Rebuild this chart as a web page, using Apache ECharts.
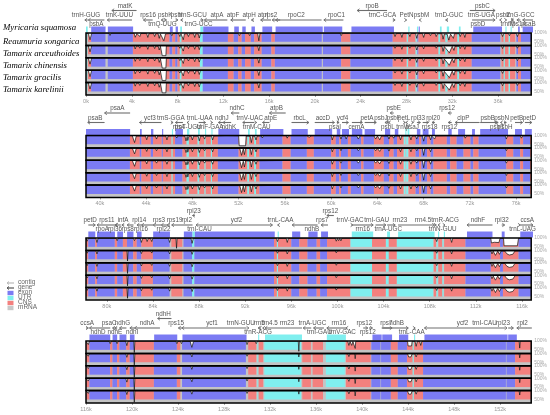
<!DOCTYPE html>
<html>
<head>
<meta charset="utf-8">
<title>mVISTA</title>
<style>
html, body { margin: 0; padding: 0; background: #fff; }
#main { width: 550px; height: 415px; }
</style>
</head>
<body>
<div id="main"></div>
<script src="https://cdn.jsdelivr.net/npm/echarts@6.0.0/dist/echarts.min.js"></script>
<script>
var speciesNames = ['Myricaria squamosa', 'Reaumuria songarica', 'Tamarix arceuthoides',
  'Tamarix chinensis', 'Tamarix gracilis', 'Tamarix karelinii'];
var legendNames = ['contig', 'gene', 'exon', 'UTR', 'CNS', 'mRNA'];

// window of each panel, kb
var panelRanges = [[0, 38.9], [38.8, 77.3], [78.2, 116.8], [116, 154.7]];
var p1Ticks = [0, 4, 8, 12, 16, 20, 24, 28, 32, 36];
var p2Ticks = [40, 44, 48, 52, 56, 60, 64, 68, 72, 76];
var p3Ticks = [80, 84, 88, 92, 96, 100, 104, 108, 112, 116];
var p4Ticks = [116, 120, 124, 128, 132, 136, 140, 144, 148, 152];

// regions: [type, start, end]  e = exon, u = UTR, c = CNS
var p1Regions = [['u',0,0.15],['c',0.15,0.45],['e',0.45,1.7],['e',1.9,4.1],['c',4.1,6.55],['c',6.6,7.3],
  ['e',7.3,7.55],['c',7.55,7.8],['e',7.8,8.0],['c',8.0,8.2],['u',8.2,8.35],['c',8.35,9.95],['u',9.95,10.2],
  ['e',10.2,12.4],['c',12.4,12.9],['e',12.9,13.3],['c',13.3,13.6],['e',13.6,13.9],['c',13.9,14.4],
  ['e',14.4,14.7],['c',14.7,15.35],['e',15.35,16.2],['c',16.2,16.5],['e',16.5,20.6],['e',20.7,22.3],
  ['c',22.3,23.1],['e',23.1,26.8],['c',26.8,28.0],['u',28.05,28.15],['c',28.15,28.8],['u',28.8,28.9],
  ['e',28.95,29.05],['c',29.05,30.8],['u',30.8,30.95],['c',30.95,31.4],['u',31.4,31.6],['c',31.6,32.45],
  ['u',32.45,32.6],['c',32.6,33.7],['e',33.7,36.2],['c',36.3,36.5],['u',36.5,36.6],['c',36.6,36.9],
  ['u',36.95,37.05],['c',37.05,37.5],['e',37.6,37.75],['c',37.75,38.0],['e',38.0,38.9]];
var p2Regions = [['e',38.8,42.6],['c',42.6,43.45],['e',43.45,43.6],['c',43.6,44.4],['e',44.4,44.6],
  ['c',44.6,45.35],['e',45.35,45.45],['c',45.45,46.2],['u',46.2,46.3],['c',46.3,46.5],['e',46.5,47.15],
  ['c',47.15,47.5],['u',47.5,47.7],['c',47.7,48.45],['u',48.45,48.6],['c',48.6,49.05],['u',49.05,49.15],
  ['c',49.15,49.6],['u',49.6,49.7],['c',49.7,50.2],['e',50.2,52.0],['c',52.0,52.75],['u',52.75,52.9],
  ['c',52.9,53.35],['u',53.35,53.5],['c',53.5,53.8],['e',53.8,55.8],['c',55.8,56.5],['e',56.5,57.9],
  ['c',57.9,58.5],['e',58.5,60.0],['c',60.0,60.4],['e',60.4,60.7],['c',60.7,60.85],['e',60.85,61.45],
  ['c',61.45,61.7],['e',61.7,62.6],['c',62.6,62.8],['e',62.8,63.7],['c',63.7,64.55],['e',64.55,65.0],
  ['c',65.0,65.4],['e',65.4,65.7],['c',65.7,66.25],['u',66.3,66.4],['u',66.5,66.65],['c',66.7,67.3],
  ['e',67.3,67.6],['c',67.6,67.8],['e',67.8,68.3],['c',68.3,68.6],['e',68.6,68.85],['c',68.85,70.0],
  ['e',70.0,70.3],['c',70.3,70.85],['e',70.85,71.45],['c',71.45,72.05],['e',72.05,72.3],['c',72.3,72.75],
  ['e',72.75,75.15],['c',75.15,75.75],['e',75.75,76.35],['c',76.35,76.6],['e',76.6,77.2],['c',77.2,77.3]];
var p3Regions = [['c',78.2,78.4],['e',78.4,79.0],['c',79.0,79.15],['e',79.15,80.7],['c',80.7,80.9],
  ['e',80.9,81.4],['c',81.4,81.75],['e',81.75,82.3],['c',82.3,82.6],['e',82.6,83.0],['c',83.0,84.0],
  ['e',84.0,85.45],['c',85.6,86.55],['e',86.65,87.4],['u',87.4,87.6],['e',87.6,94.5],['c',94.5,94.75],
  ['u',94.75,94.85],['c',94.85,96.0],['e',96.0,96.7],['c',96.7,97.4],['e',97.4,98.2],['c',98.2,98.5],
  ['e',98.5,99.1],['c',99.1,101.1],['u',101.15,103.0],['c',103.0,104.2],['u',104.2,104.45],
  ['c',104.45,105.15],['u',105.15,108.3],['c',108.35,108.55],['u',108.6,108.7],['c',108.75,109.1],
  ['u',109.1,109.2],['c',109.25,111.1],['e',111.1,113.3],['c',113.3,114.1],['e',114.1,114.35],
  ['c',114.35,115.7],['e',115.7,116.8]];
var p4Regions = [['c',116.0,116.3],['e',116.3,118.1],['c',118.1,118.3],['e',118.3,118.7],['c',118.7,118.9],
  ['e',118.9,119.5],['c',119.5,119.8],['e',119.8,120.2],['c',120.25,121.9],['e',121.9,123.9],
  ['c',123.9,124.2],['e',124.35,129.9],['c',130.1,130.8],['u',130.9,131.0],['c',131.0,131.4],
  ['u',131.5,134.7],['c',134.8,135.55],['c',135.7,136.6],['u',136.85,138.5],['c',138.6,140.75],
  ['e',140.8,141.6],['e',141.65,142.5],['c',142.5,143.1],['e',143.1,143.9],['c',143.9,144.4],
  ['u',144.4,144.5],['c',144.5,145.3],['e',145.3,152.5],['e',152.55,153.3],['c',153.3,154.7]];

// genes: [name, start, end, strand, row, label centre]
var p1Genes = [['trnH-GUG',-0.1,0.15,-1,1,0.0],['psbA',0.2,1.6,-1,0,0.9],['matK',2.25,4.4,-1,2,3.4],
  ['trnK-UUU',1.85,4.0,-1,1,2.9],['rps16',5.0,5.8,-1,1,5.4],['trnQ-UUG',6.55,6.75,-1,0,6.65],
  ['psbK',6.8,7.0,1,1,6.9],['psbI',7.8,8.0,1,1,7.9],['trnS-GCU',8.25,8.4,-1,1,9.3],
  ['trnG-UCC',9.95,10.2,1,0,9.8],['atpA',10.3,12.3,-1,1,11.4],['atpF',12.6,13.9,-1,1,12.8],
  ['atpH',14.4,14.6,-1,1,14.2],['atpI',15.2,16.1,-1,1,15.4],['rps2',16.2,16.9,-1,1,16.1],
  ['rpoC2',16.5,20.5,-1,1,18.3],['rpoC1',20.7,22.4,-1,1,21.8],['rpoB',23.6,26.2,-1,2,24.9],
  ['trnC-GCA',26.7,26.9,1,1,25.8],['PetN',27.8,27.9,1,1,27.9],['psbM',29.0,29.1,-1,1,29.2],
  ['trnD-GUC',31.3,31.5,-1,1,31.6],['psbD',33.6,35.6,1,0,34.1],['psbC',33.4,35.6,1,2,34.5],
  ['trnS-UGA',36.0,36.1,-1,1,34.4],['psbZ',36.5,36.6,1,1,36.3],['trnG-GCC',37.1,37.2,1,1,37.8],
  ['trnfM',37.0,37.1,-1,0,36.7],['rps14',37.5,37.8,-1,0,37.6],['psaB',38.0,38.9,-1,0,38.5]];
var p2Genes = [['psaB',38.95,40.4,-1,1,39.6],['psaA',40.4,42.6,-1,2,41.5],['ycf3',43.4,45.3,-1,1,44.3],
  ['trnS-GGA',46.15,46.3,1,1,46.1],['rps4',46.5,47.15,-1,0,46.8],['trnT-UGU',47.5,47.6,-1,0,47.6],
  ['trnL-UAA',48.5,49.1,1,1,48.6],['trnF-GAA',49.6,49.7,1,0,49.5],['ndhJ',50.2,50.6,-1,1,50.5],
  ['ndhK',50.6,51.3,-1,0,51.1],['ndhC',51.3,52.0,-1,2,51.8],['trnV-UAC',52.3,53.3,-1,1,52.9],
  ['trnM-CAU',53.4,53.5,1,0,53.5],['atpE',54.0,54.6,-1,1,54.7],['atpB',54.6,56.0,-1,2,55.2],
  ['rbcL',56.5,58.0,1,1,57.2],['accD',58.5,60.2,1,1,59.2],['psaI',60.4,60.6,1,0,60.25],
  ['ycf4',60.85,61.4,1,1,60.9],['cemA',61.7,62.6,1,0,62.1],['petA',62.8,63.8,1,1,63.0],
  ['psbJ',64.55,64.65,-1,1,64.2],['psbL',64.7,64.8,-1,0,64.8],['psbF',64.85,64.95,-1,1,65.3],
  ['psbE',65.0,65.3,-1,2,65.3],['petL',66.2,66.3,1,1,66.2],['trnW',66.35,66.45,-1,0,66.1],
  ['psaJ',66.9,67.0,1,0,66.9],['rpl33',67.3,67.6,1,1,67.4],['rps18',67.8,68.3,1,0,68.4],
  ['rpl20',68.6,68.85,-1,1,68.7],['rps12',70.0,70.3,-1,2,69.9],['rps12',70.0,70.3,-1,0,70.1],
  ['clpP',70.6,72.7,-1,1,71.3],['psbB',72.75,74.2,1,1,73.4],['psbT',74.2,74.3,1,0,74.2],
  ['psbN',74.5,74.6,-1,1,74.6],['psbH',74.8,75.0,1,0,74.9],['petB',75.75,76.4,1,1,75.9],
  ['petD',76.6,77.2,1,1,77.0]];
var p3Genes = [['petD',78.4,79.0,1,1,78.55],['rps11',80.7,81.2,-1,1,80.0],['infA',81.3,81.5,-1,1,81.4],
  ['rpl14',82.6,83.0,-1,1,82.8],['rpoA',79.15,80.7,-1,0,79.6],['rpl36',80.75,80.85,-1,0,80.7],
  ['rps8',81.75,82.3,-1,0,81.8],['rpl16',83.0,84.0,-1,0,82.95],['rps3',84.0,84.7,-1,1,84.5],
  ['rps19',85.2,85.45,-1,1,85.85],['rpl22',84.7,85.2,-1,0,84.9],['rpl2',85.6,87.4,-1,1,86.9],
  ['rpl23',87.4,87.6,-1,2,87.5],['trnI-CAU',87.7,87.8,-1,0,88.0],['ycf2',87.8,94.3,1,1,91.2],
  ['trnL-CAA',94.75,94.85,-1,1,95.0],['ndhB',96.0,98.2,-1,0,97.7],['rps7',98.5,99.1,-1,1,98.6],
  ['rps12',99.0,99.6,-1,2,99.3],['trnV-GAC',101.1,101.25,1,1,101.0],['rrn16',101.25,103.0,1,0,102.1],
  ['trnI-GAU',103.2,104.1,1,1,103.3],['trnA-UGC',104.2,104.9,1,0,104.3],['rrn23',105.15,108.3,1,1,105.3],
  ['rrn4.5',108.35,108.45,1,1,107.3],['trnR-ACG',109.1,109.2,1,1,109.2],['trnN-GUU',108.6,108.7,-1,0,109.0],
  ['ndhF',111.1,113.3,-1,1,112.05],['rpl32',114.1,114.35,1,1,114.1],['trnL-UAG',115.6,115.7,1,0,115.9],
  ['ccsA',115.7,116.8,1,1,116.3]];
var p4Genes = [['ccsA',116.0,116.2,1,1,116.1],['ndhD',116.3,118.1,-1,0,117.05],['psaC',118.3,118.5,-1,1,118.0],
  ['ndhE',118.5,118.7,-1,0,118.5],['ndhG',118.9,119.5,-1,1,119.15],['ndhI',119.8,120.2,-1,0,120.0],
  ['ndhA',120.2,122.4,-1,1,121.3],['ndhH',122.2,123.4,-1,2,122.7],['rps15',124.0,124.3,-1,1,123.8],
  ['ycf1',124.3,129.9,-1,1,126.9],['trnN-GUU',130.0,130.1,1,1,129.4],['trnR-ACG',130.9,131.0,-1,0,130.9],
  ['rrn5',131.0,131.1,-1,1,131.0],['rrn4.5',131.3,131.4,-1,1,131.9],['rrn23',131.5,134.7,-1,1,133.4],
  ['trnA-UGC',134.8,135.5,-1,1,135.6],['trnI-GAU',135.7,136.6,-1,0,136.2],['rrn16',136.85,138.5,-1,1,137.9],
  ['trnV-GAC',138.5,138.6,-1,0,138.2],['rps12',140.0,140.4,1,1,140.1],['rps12',140.5,140.8,1,0,140.4],
  ['rps7',141.65,142.5,1,1,142.0],['ndhB',141.6,143.9,1,1,142.9],['trnL-CAA',144.4,144.5,1,0,144.2],
  ['ycf2',145.3,152.3,-1,1,148.6],['trnI-CAU',152.35,152.45,1,1,150.5],['rpl23',152.55,153.0,1,1,152.1],
  ['rpl2',153.3,154.6,-1,1,153.8]];

// conservation curves: [kb, identity %]
var p1Reau = [[0,99],[0.2,99],[0.35,62],[0.5,99],[2.0,99],[2.1,86],[2.2,99],[3.5,99],[3.6,90],[3.7,99],
  [4.2,99],[4.3,76],[4.45,97],[4.6,96],[4.7,80],[4.8,97],[5.3,97],[5.4,75],[5.5,96],[5.9,97],[6.0,80],[6.1,96],
  [6.3,96],[6.4,70],[6.5,95],[6.65,94],[6.8,56],[6.95,95],[7.4,97],[7.5,85],[7.6,97],[8.1,97],[8.2,80],[8.3,96],
  [8.4,95],[8.5,62],[8.6,95],[8.85,96],[8.95,80],[9.05,96],[9.4,96],[9.5,75],[9.6,96],[9.8,95],[9.9,72],[10.0,98],
  [12.4,98],[12.5,88],[12.6,98],[13.3,98],[13.4,85],[13.5,98],[14.2,98],[14.3,85],[14.4,98],[15.0,98],[15.1,56],
  [15.2,97],[15.9,98],[16.0,88],[16.1,99],[20.5,99],[20.6,90],[20.7,99],[22.2,99],[22.3,85],[22.4,98],[22.8,98],
  [22.9,88],[23.0,99],[26.9,98],[27.0,80],[27.1,97],[27.5,97],[27.6,75],[27.7,97],[28.2,97],[28.3,80],[28.4,97],
  [28.8,97],[28.9,70],[29.0,96],[29.4,97],[29.5,75],[29.6,97],[30.0,97],[30.1,85],[30.2,97],[30.5,97],[30.6,80],
  [30.7,96],[31.1,96],[31.2,65],[31.3,94],[31.55,94],[31.7,60],[31.85,94],[32.0,95],[32.1,70],[32.2,96],[32.6,96],
  [32.7,80],[32.8,97],[33.0,97],[33.1,75],[33.2,98],[36.3,98],[36.4,80],[36.5,98],[36.9,98],[37.0,85],[37.1,98],
  [37.6,98],[37.7,80],[37.8,98],[38.9,99]];
var p1Tama = [[0,99],[0.2,99],[0.35,64],[0.5,99],[2.0,99],[2.1,90],[2.2,99],[4.2,99],[4.3,80],[4.4,97],
  [4.6,97],[4.7,84],[4.8,97],[5.3,97],[5.4,78],[5.5,97],[5.9,97],[6.0,82],[6.1,97],[6.3,96],[6.4,74],[6.5,96],
  [6.62,96],[6.66,42],[6.98,42],[7.02,97],[7.4,97],[7.5,88],[7.6,97],[8.1,97],[8.2,84],[8.3,97],[8.4,96],[8.5,68],
  [8.6,96],[8.85,96],[8.95,82],[9.05,96],[9.4,96],[9.5,78],[9.6,96],[9.8,96],[9.9,76],[10.0,98],[12.4,98],
  [12.5,90],[12.6,98],[13.3,98],[13.4,88],[13.5,98],[14.2,98],[14.3,88],[14.4,98],[15.0,98],[15.1,70],[15.2,98],
  [15.9,98],[16.0,90],[16.1,99],[22.2,99],[22.3,88],[22.4,99],[26.9,98],[27.0,84],[27.1,97],[27.5,97],[27.6,78],
  [27.7,97],[28.2,97],[28.3,84],[28.4,97],[28.8,97],[28.9,74],[29.0,96],[29.4,97],[29.5,80],[29.6,97],[30.5,97],
  [30.6,84],[30.7,96],[31.1,96],[31.2,66],[31.3,94],[31.45,95],[31.75,58],[32.0,95],[32.05,95],[32.15,72],
  [32.25,96],[32.6,96],[32.7,82],[32.8,97],[33.0,97],[33.1,78],[33.2,98],[36.3,98],[36.4,82],[36.5,98],
  [37.6,98],[37.7,84],[37.8,98],[38.9,99]];
var p2Reau = [[38.8,99],[39.05,99],[39.1,92],[39.15,99],[42.8,99],[43.0,60],[43.15,97],[43.95,97],[44.05,76],
  [44.15,97],[44.8,97],[44.9,80],[45.0,97],[45.7,97],[45.8,75],[45.9,97],[46.55,98],[46.65,86],[46.75,98],
  [47.35,97],[47.45,70],[47.55,95],[47.6,72],[47.7,96],[47.9,96],[48.0,75],[48.1,96],[48.5,96],[48.6,70],
  [48.7,96],[48.95,96],[49.05,80],[49.15,96],[49.65,96],[49.75,75],[49.85,97],[50.85,99],[50.95,90],[51.05,99],
  [52.0,98],[52.05,42],[52.6,42],[52.65,97],[53.0,96],[53.1,60],[53.2,96],[53.4,96],[53.5,75],[53.6,97],
  [53.95,98],[54.05,86],[54.15,99],[56.1,99],[56.2,85],[56.3,99],[57.9,99],[58.1,90],[58.3,98],[58.5,99],
  [60.0,99],[60.1,75],[60.2,98],[60.75,98],[60.85,80],[60.95,98],[61.2,98],[61.3,80],[61.4,98],[62.2,98],
  [62.35,80],[62.5,98],[63.7,98],[63.85,80],[64.0,97],[64.2,76],[64.35,97],[64.9,97],[65.0,80],[65.1,97],
  [65.3,97],[65.4,85],[65.5,97],[65.9,97],[66.0,75],[66.1,97],[66.8,97],[66.9,75],[67.0,97],[67.3,97],[67.4,80],
  [67.5,97],[67.9,97],[68.0,68],[68.1,96],[68.5,97],[68.6,75],[68.7,97],[68.85,97],[68.95,80],[69.05,97],
  [69.9,98],[70.0,88],[70.1,98],[71.5,98],[71.6,85],[71.7,98],[72.2,98],[72.3,88],[72.4,98],[75.05,98],
  [75.15,80],[75.25,98],[76.35,98],[76.45,85],[76.55,98],[77.3,99]];
var p2Tama = [[38.8,99],[42.8,99],[43.0,66],[43.15,97],[43.95,97],[44.05,80],[44.15,97],[44.8,97],[44.9,84],
  [45.0,97],[45.7,97],[45.8,78],[45.9,97],[47.35,97],[47.45,74],[47.55,95],[47.6,76],[47.7,96],[47.9,96],
  [48.0,78],[48.1,96],[48.5,96],[48.6,74],[48.7,96],[48.95,96],[49.05,84],[49.15,96],[49.65,96],[49.75,78],
  [49.85,97],[52.1,97],[52.25,58],[52.4,95],[52.5,62],[52.6,97],[53.0,96],[53.1,62],[53.2,96],[53.4,96],
  [53.5,78],[53.6,97],[56.1,99],[56.2,88],[56.3,99],[60.0,99],[60.1,78],[60.2,98],[60.75,98],[60.85,84],
  [60.95,98],[62.2,98],[62.35,84],[62.5,98],[63.7,98],[63.85,84],[64.0,97],[64.2,80],[64.35,97],[64.9,97],
  [65.0,82],[65.1,97],[65.9,97],[66.0,78],[66.1,97],[66.8,97],[66.9,78],[67.0,97],[67.3,97],[67.4,84],
  [67.5,97],[67.9,97],[68.0,58],[68.1,96],[68.5,97],[68.6,78],[68.7,97],[69.9,98],[70.0,90],[70.1,98],
  [71.5,98],[71.6,88],[71.7,98],[75.05,98],[75.15,84],[75.25,98],[76.35,98],[76.45,88],[76.55,98],[77.3,99]];
var p3Reau = [[78.2,99],[78.25,99],[78.3,82],[78.4,99],[79.05,99],[79.15,75],[79.25,99],[80.8,99],[80.9,85],
  [81.0,99],[81.7,99],[81.8,88],[81.9,99],[82.3,99],[82.4,85],[82.5,99],[82.9,98],[83.0,75],[83.1,97],
  [83.4,97],[83.5,80],[83.6,97],[83.8,97],[83.9,80],[84.0,98],[85.35,98],[85.45,75],[85.55,98],[86.0,98],
  [86.05,42],[86.1,98],[87.3,98],[87.4,70],[87.5,98],[88.6,99],[88.65,93],[88.7,99],[90.85,99],[90.9,93],
  [90.95,99],[92.55,99],[92.6,93],[92.65,99],[94.7,99],[94.8,80],[94.9,98],[95.55,98],[95.65,75],[95.75,98],
  [99.8,99],[99.9,82],[100.0,98],[100.1,85],[100.2,98],[100.3,84],[100.4,99],[108.5,99],[108.6,80],[108.7,99],
  [109.8,99],[109.9,75],[110.0,99],[113.3,98],[113.35,72],[113.6,76],[113.7,70],[114.0,74],[114.1,98],
  [114.4,98],[114.45,56],[115.6,56],[115.7,98],[116.3,99],[116.4,90],[116.5,99],[116.8,99]];
var p3Tama = [[78.2,99],[78.25,99],[78.3,84],[78.4,99],[79.05,99],[79.15,80],[79.25,99],[81.75,99],[81.8,40],
  [81.85,99],[82.9,98],[83.0,82],[83.1,98],[83.8,98],[83.9,85],[84.0,98],[85.35,98],[85.45,80],[85.55,98],
  [87.3,98],[87.4,78],[87.5,98],[94.7,99],[94.8,84],[94.9,98],[95.55,98],[95.65,80],[95.75,98],[99.8,99],
  [99.9,86],[100.0,98],[100.1,88],[100.2,99],[108.5,99],[108.6,84],[108.7,99],[109.8,99],[109.9,80],[110.0,99],
  [113.3,98],[113.4,80],[113.5,96],[113.7,72],[113.9,96],[114.05,78],[114.2,98],[114.5,97],[114.7,80],
  [114.9,74],[115.2,78],[115.4,97],[116.8,99]];
var p4Reau = [[116,99],[116.1,99],[116.2,80],[116.3,99],[118.0,99],[118.1,85],[118.2,99],[118.6,99],[118.7,85],
  [118.8,99],[119.45,99],[119.55,74],[119.65,99],[120.15,99],[120.2,35],[120.25,99],[121.7,99],[121.8,90],
  [121.9,99],[123.8,99],[123.9,85],[124.0,99],[124.2,99],[124.3,85],[124.4,99],[125.05,98],[125.2,64],
  [125.35,97],[125.8,97],[125.9,92],[126.0,98],[126.6,98],[126.7,91],[126.8,98],[127.4,98],[127.5,92],
  [127.6,98],[128.35,98],[128.45,88],[128.55,98],[129.9,99],[130.0,80],[130.1,99],[130.7,99],[130.8,85],
  [130.9,99],[134.45,99],[134.5,42],[134.55,99],[138.75,99],[138.85,75],[138.95,97],[139.1,75],[139.2,97],
  [139.35,97],[139.4,58],[139.45,98],[143.95,98],[144.0,72],[144.3,72],[144.35,98],[144.6,98],[144.7,70],
  [144.8,98],[145.0,98],[145.1,75],[145.2,98],[147.0,99],[147.05,93],[147.1,99],[152.4,99],[152.5,90],
  [152.6,99],[153.65,99],[153.7,60],[153.75,99],[154.7,99]];
var p4Tama = [[116,99],[116.1,99],[116.2,84],[116.3,99],[118.0,99],[118.1,88],[118.2,99],[119.45,99],
  [119.55,78],[119.65,99],[120.15,99],[120.2,35],[120.25,99],[123.8,99],[123.9,88],[124.0,99],[125.1,98],
  [125.2,80],[125.3,98],[126.6,98],[126.7,93],[126.8,98],[128.35,98],[128.45,92],[128.55,98],[129.9,99],
  [130.0,84],[130.1,99],[134.45,99],[134.5,80],[134.55,99],[138.75,99],[138.85,82],[138.95,98],[139.35,98],
  [139.4,70],[139.45,98],[143.95,98],[144.05,80],[144.25,80],[144.35,98],[144.6,98],[144.7,80],[144.8,98],
  [153.65,99],[153.7,75],[153.75,99],[154.7,99]];

var panels = [
  { range: panelRanges[0], ticks: p1Ticks, regions: p1Regions, genes: p1Genes, curves: [p1Reau, p1Tama, p1Tama, p1Tama, p1Tama] },
  { range: panelRanges[1], ticks: p2Ticks, regions: p2Regions, genes: p2Genes, curves: [p2Reau, p2Tama, p2Tama, p2Tama, p2Tama] },
  { range: panelRanges[2], ticks: p3Ticks, regions: p3Regions, genes: p3Genes, curves: [p3Reau, p3Tama, p3Tama, p3Tama, p3Tama] },
  { range: panelRanges[3], ticks: p4Ticks, regions: p4Regions, genes: p4Genes, curves: [p4Reau, p4Tama, p4Tama, p4Tama, p4Tama] }
];

var colors = { e: '#7b7bf3', c: '#f3807e', u: '#80efef', gray: '#c4c4c4', arrow: '#6e6e6e', label: '#555' };
var LEFT = 86, WIDTH = 447, TRACK_H = 12.4, ANNOT_H = 33;
var panelTops = [33, 135.5, 238, 341];
// px above the track block for each annotation row
var rowArrow = [13, 13, 22.5];
var rowLabel = [8.5, 17.5, 27];

function rectBetween(api, x0, x1, y0, y1, fill) {
  var a = api.coord([x0, y1]), b = api.coord([x1, y0]);
  return { type: 'rect', shape: { x: a[0], y: a[1], width: Math.max(b[0] - a[0], 0.7), height: b[1] - a[1] }, style: { fill: fill } };
}

function geneItem(list) {
  return function (params, api) {
    var g = list[params.dataIndex];
    var row = g[4];
    var a = api.coord([g[1], rowArrow[row]]);
    var b = api.coord([g[2], rowArrow[row]]);
    var lab = api.coord([g[5], rowLabel[row]]);
    var y = a[1];
    var tip = g[3] > 0 ? b[0] : a[0];
    var d = g[3] > 0 ? -2.3 : 2.3;
    return {
      type: 'group',
      children: [
        { type: 'line', shape: { x1: a[0], y1: y, x2: b[0], y2: y }, style: { stroke: colors.arrow, lineWidth: 1.1 } },
        { type: 'polyline', shape: { points: [[tip + d, y - 1.7], [tip, y], [tip + d, y + 1.7]] }, style: { stroke: colors.arrow, fill: null, lineWidth: 0.9 } },
        { type: 'text', style: { text: g[0], x: lab[0], y: lab[1], align: 'center', verticalAlign: 'middle',
          fontSize: 6.3, fontFamily: 'Liberation Sans', fill: colors.label } }
      ]
    };
  };
}

var grids = [], xAxes = [], yAxes = [], series = [];

panels.forEach(function (p, pi) {
  var T = panelTops[pi];
  var gi = grids.length;
  grids.push({ left: LEFT, width: WIDTH, top: T - ANNOT_H, height: ANNOT_H });
  xAxes.push({ type: 'value', gridIndex: gi, min: p.range[0], max: p.range[1], show: false });
  yAxes.push({ type: 'value', gridIndex: gi, min: 0, max: ANNOT_H, show: false });

  // exon / UTR strip of the reference genome
  var feats = p.regions.filter(function (r) { return r[0] !== 'c'; });
  series.push({
    type: 'custom', xAxisIndex: gi, yAxisIndex: gi, silent: true, z: 2,
    data: feats.map(function (r) { return [r[1], r[2]]; }),
    encode: { x: [0, 1] },
    renderItem: function (params, api) {
      var r = feats[params.dataIndex];
      return rectBetween(api, r[1], r[2], 0.5, 6.5, colors[r[0]]);
    }
  });
  series.push({
    type: 'custom', xAxisIndex: gi, yAxisIndex: gi, silent: true, z: 3,
    data: p.genes.map(function (g) { return [g[1], g[2]]; }),
    encode: { x: [0, 1] },
    renderItem: geneItem(p.genes)
  });

  p.curves.forEach(function (curve, ti) {
    var idx = grids.length;
    var last = ti === p.curves.length - 1;
    grids.push({ left: LEFT, width: WIDTH, top: T + ti * TRACK_H, height: TRACK_H,
      show: true, backgroundColor: colors.gray, borderWidth: 0 });
    xAxes.push({
      type: 'value', gridIndex: idx, min: p.range[0], max: p.range[1], show: last,
      axisLine: { show: false },
      axisTick: { show: true, customValues: p.ticks, length: 2, lineStyle: { color: '#aaa' } },
      axisLabel: { customValues: p.ticks, formatter: function (v) { return v + 'k'; },
        fontSize: 5.5, color: '#999', margin: 3, fontFamily: 'Liberation Sans' },
      splitLine: { show: false }
    });
    yAxes.push({
      type: 'value', gridIndex: idx, min: 30, max: 100, position: 'right',
      axisLine: { show: false }, axisTick: { show: false }, splitLine: { show: false },
      axisLabel: { customValues: [50, 100], formatter: '{value}%', fontSize: 5, color: '#aaa', margin: 3,
        fontFamily: 'Liberation Sans' }
    });
    series.push({
      type: 'custom', xAxisIndex: idx, yAxisIndex: idx, silent: true, z: 2,
      data: p.regions.map(function (r) { return [r[1], r[2]]; }),
      encode: { x: [0, 1] },
      renderItem: function (params, api) {
        var r = p.regions[params.dataIndex];
        return rectBetween(api, r[1], r[2], 50, 100, colors[r[0]]);
      }
    });
    series.push({
      type: 'line', xAxisIndex: idx, yAxisIndex: idx, data: curve, symbol: 'none', silent: true, z: 3,
      lineStyle: { color: '#111', width: 0.7 },
      areaStyle: { color: '#fff', opacity: 1, origin: 'end' }
    });
    series.push({
      type: 'custom', xAxisIndex: idx, yAxisIndex: idx, silent: true, z: 5,
      data: [[p.range[0], p.range[1]]],
      encode: { x: [0, 1] },
      renderItem: function (params, api) {
        var a = api.coord([p.range[0], 100]), b = api.coord([p.range[1], 30]);
        return { type: 'rect', shape: { x: a[0], y: a[1], width: b[0] - a[0], height: b[1] - a[1] },
          style: { fill: null, stroke: '#000', lineWidth: 1.5 } };
      }
    });
  });
});

// species names beside the first panel, legend in the lower left
var nameY = [29, 42.5, 54.5, 66.5, 78.5, 90.5];
var graphics = speciesNames.map(function (n, i) {
  return { type: 'text', left: 3, top: nameY[i] - 5.5,
    style: { text: n, fontFamily: 'Liberation Serif', fontStyle: 'italic', fontSize: 8.8, fill: '#000' } };
});
var legendY = [283, 288, 293, 298, 303, 308];
var legendSwatch = [null, null, colors.e, colors.u, colors.c, '#c8c8c8'];
legendNames.forEach(function (n, i) {
  var y = legendY[i];
  if (i < 2) {
    var c = i === 0 ? '#bbb' : '#555';
    graphics.push({ type: 'line', shape: { x1: 7, y1: y, x2: 14, y2: y }, style: { stroke: c, lineWidth: 1.2 } });
    graphics.push({ type: 'polyline', shape: { points: [[9, y - 1.5], [7, y], [9, y + 1.5]] }, style: { stroke: c, fill: null, lineWidth: 1 } });
  } else {
    graphics.push({ type: 'rect', shape: { x: 7.5, y: y - 2.2, width: 6, height: 4.4 }, style: { fill: legendSwatch[i] } });
  }
  graphics.push({ type: 'text', left: 18, top: y - 4,
    style: { text: n, fontFamily: 'Liberation Sans', fontSize: 6.5, fill: '#666' } });
});

var chart = echarts.init(document.getElementById('main'), null, { renderer: 'canvas' });
chart.setOption({
  animation: false,
  backgroundColor: '#fff',
  grid: grids,
  xAxis: xAxes,
  yAxis: yAxes,
  series: series,
  graphic: graphics
});
</script>
</body>
</html>
